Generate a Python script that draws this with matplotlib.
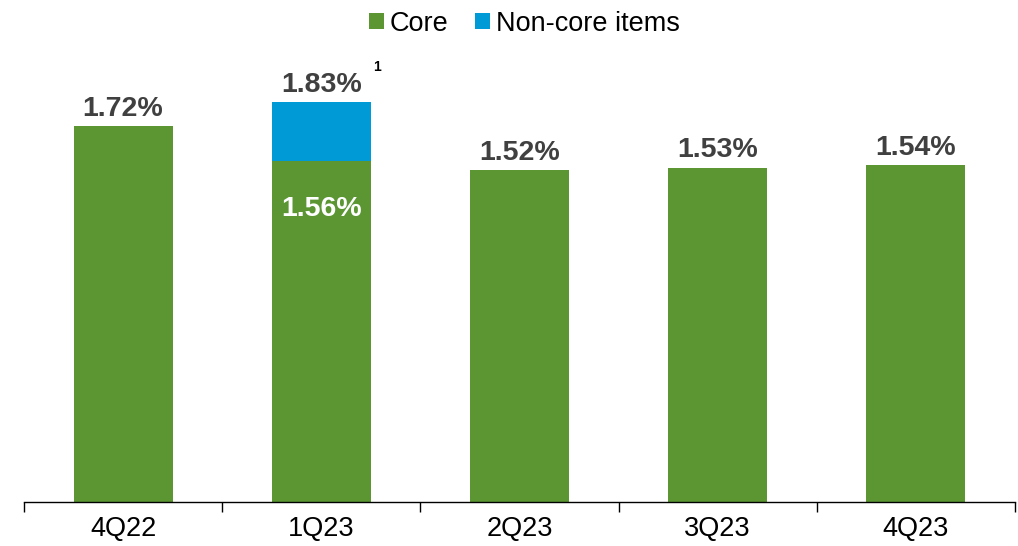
import matplotlib.pyplot as plt

quarters = ['4Q22', '1Q23', '2Q23', '3Q23', '4Q23']
core = [1.72, 1.56, 1.52, 1.53, 1.54]
non_core = [0, 0.27, 0, 0, 0]
totals = ['1.72%', '1.83%', '1.52%', '1.53%', '1.54%']
core_inside = [None, '1.56%', None, None, None]

green = '#5B9632'
blue = '#009AD7'
dark = '#404040'


def main():
    plt.rcParams['font.family'] = ['Liberation Sans', 'DejaVu Sans']
    fig = plt.figure(figsize=(10.18, 5.46), dpi=100)
    ax = fig.add_axes([24 / 1018, (546 - 502) / 546, (1015 - 24) / 1018, 0.8])

    x = list(range(len(quarters)))
    ax.bar(x, core, width=0.5, color=green, label='Core')
    ax.bar(x, non_core, width=0.5, bottom=core, color=blue, label='Non-core items')

    ax.set_xlim(-0.5, len(quarters) - 0.5)
    ax.set_ylim(0, 0.8 * 546 / 218.6)

    for i in x:
        h = core[i] + non_core[i]
        ax.annotate(totals[i], (i, h), xytext=(0, 3), textcoords='offset points',
                    ha='center', va='bottom', fontsize=20.5, fontweight='bold', color=dark)
        if core_inside[i]:
            ax.annotate(core_inside[i], (i, core[i]), xytext=(0, -25), textcoords='offset points',
                        ha='center', va='top', fontsize=20.5, fontweight='bold', color='white')
    # footnote marker on 1Q23
    ax.annotate('1', (1, core[1] + non_core[1]), xytext=(40, 20), textcoords='offset points',
                ha='center', va='bottom', fontsize=10, fontweight='bold', color='black')

    for s in ['top', 'right', 'left']:
        ax.spines[s].set_visible(False)
    ax.spines['bottom'].set_color('black')
    ax.spines['bottom'].set_linewidth(1.0)
    ax.set_yticks([])
    ax.set_xticks(x)
    ax.set_xticklabels(quarters, fontsize=19.5)
    ax.tick_params(axis='x', length=0, pad=10)
    ax.set_xticks([i - 0.5 for i in range(len(quarters) + 1)], minor=True)
    ax.tick_params(axis='x', which='minor', length=7, width=1.0, color='black')

    fig.legend(loc='upper center', bbox_to_anchor=(0.515, 1.025), ncol=2, frameon=False,
               fontsize=19.5, handlelength=0.55, handleheight=0.55, handletextpad=0.2,
               columnspacing=1.0)

    fig.savefig('out.png', dpi=100)


if __name__ == '__main__':
    main()
